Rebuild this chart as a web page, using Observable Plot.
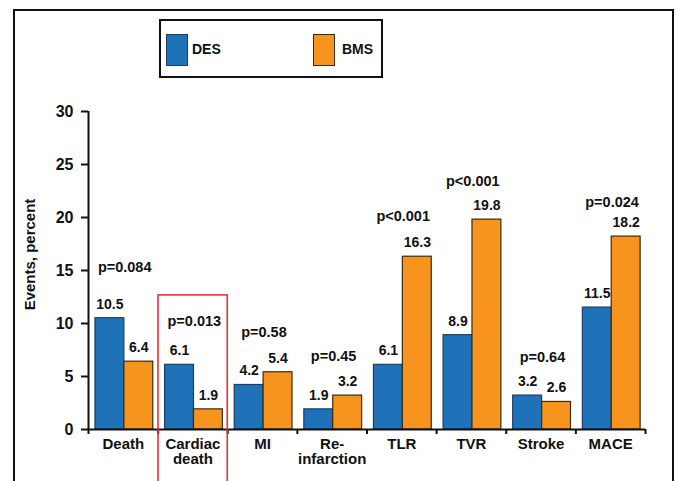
<!DOCTYPE html>
<html>
<head>
<meta charset="utf-8">
<script src="https://cdn.jsdelivr.net/npm/d3@7"></script>
<script src="https://cdn.jsdelivr.net/npm/@observablehq/plot@0.6"></script>
<style>
  html, body { margin: 0; padding: 0; background: #fff; overflow: hidden; }
  #wrap { position: relative; width: 678px; height: 481px; overflow: hidden; background: #fff;
          font-family: "Liberation Sans", Arial, sans-serif; }
  #frame { position: absolute; left: 13px; top: 9px; width: 657px; height: 520px; border: 2px solid #111; }
  #legend { position: absolute; left: 159px; top: 19px; width: 220px; height: 55px; border: 2px solid #111; background: #fff; }
  .sw { position: absolute; top: 13px; width: 22px; height: 32px; box-sizing: border-box; }
  .lt { position: absolute; top: 20px; font-weight: bold; font-size: 14px; color: #111; line-height: 16px; }
  #chart { position: absolute; left: 0; top: 0; }
</style>
</head>
<body>
<div id="wrap">
  <div id="frame"></div>
  <div id="chart"></div>
  <div id="legend"></div>
</div>
<script>
const categories = ["Death", "Cardiac\ndeath", "MI", "Re-\ninfarction", "TLR", "TVR", "Stroke", "MACE"];
const seriesNames = ["DES", "BMS"];
const desValues = [10.5, 6.1, 4.2, 1.9, 6.1, 8.9, 3.2, 11.5];
const bmsValues = [6.4, 1.9, 5.4, 3.2, 16.3, 19.8, 2.6, 18.2];
const pLabels = ["p=0.084", "p=0.013", "p=0.58", "p=0.45", "p<0.001", "p<0.001", "p=0.64", "p=0.024"];
const pLabelLevel = [15.3, 10.2, 9.2, 6.9, 20.1, 23.4, 6.8, 21.4];
const yTicks = [0, 5, 10, 15, 20, 25, 30];
const highlighted = "Cardiac\ndeath";

const colors = { DES: "#1f72b8", BMS: "#f7941e" };
const strokes = { DES: "#1d3d63", BMS: "#3a2a10" };

const rows = categories.map((c, i) => ({ i, category: c, DES: desValues[i], BMS: bmsValues[i], p: pLabels[i], pl: pLabelLevel[i] }));
const bars = rows.flatMap(r => seriesNames.map((s, k) => ({ i: r.i, series: s, k, value: r[s] })));

const font = "Liberation Sans, Arial, sans-serif";
const hi = categories.indexOf(highlighted);

const chart = Plot.plot({
  width: 678,
  height: 481,
  marginLeft: 88,
  marginRight: 33,
  marginTop: 111,
  marginBottom: 52,
  style: { fontFamily: font, background: "transparent", overflow: "visible" },
  x: { domain: [0, categories.length], axis: null },
  y: { domain: [0, 30], axis: null },
  marks: [
    Plot.rectY(bars, {
      x1: d => d.i + 0.1 + d.k * 0.415,
      x2: d => d.i + 0.515 + d.k * 0.415,
      y1: 0,
      y2: "value",
      fill: d => colors[d.series],
      stroke: d => strokes[d.series],
      strokeWidth: 1.2
    }),
    Plot.text(bars, {
      x: d => d.i + 0.3075 + d.k * 0.415,
      y: "value",
      text: d => d.value.toFixed(1),
      dy: -14,
      fontSize: 14,
      fontWeight: "bold",
      fill: "#111"
    }),
    Plot.text(rows, {
      x: d => d.i + 0.52,
      y: "pl",
      text: "p",
      fontSize: 14.5,
      fontWeight: "bold",
      fill: "#111"
    }),
    Plot.axisY({
      ticks: yTicks,
      tickSize: 7,
      tickPadding: 8,
      fontSize: 16,
      fontWeight: "bold",
      stroke: "#111",
      strokeWidth: 2,
      color: "#111",
      label: null
    }),
    Plot.axisX({
      ticks: d3.range(categories.length + 1),
      tickFormat: () => "",
      tickSize: 5,
      stroke: "#111",
      strokeWidth: 2,
      label: null
    }),
    Plot.ruleX([0], { y1: 0, y2: 30, stroke: "#111", strokeWidth: 2 }),
    Plot.ruleY([0], { x1: 0, x2: categories.length, stroke: "#111", strokeWidth: 2 }),
    Plot.text(rows, {
      x: d => d.i + 0.5,
      y: 0,
      text: "category",
      lineAnchor: "top",
      dy: 9,
      fontSize: 15,
      fontWeight: "bold",
      fill: "#111"
    }),
    Plot.text(["Events, percent"], {
      frameAnchor: "left",
      text: d => d,
      rotate: -90,
      textAnchor: "middle",
      dx: -58,
      dy: -16,
      fontSize: 15,
      fontWeight: "bold",
      fill: "#111"
    }),
    Plot.rect([hi], {
      x1: d => d + 0.005,
      x2: d => d + 1.0,
      y1: -5,
      y2: 12.65,
      fill: "none",
      stroke: "#e8313c",
      strokeWidth: 1.6
    })
  ]
});
document.getElementById("chart").append(chart);

const legend = document.getElementById("legend");
const legendLayout = [{ sw: 5, tx: 31 }, { sw: 152, tx: 181 }];
seriesNames.forEach((s, k) => {
  const sw = document.createElement("div");
  sw.className = "sw";
  sw.style.left = legendLayout[k].sw + "px";
  sw.style.background = colors[s];
  sw.style.border = "1px solid " + strokes[s];
  legend.append(sw);
  const t = document.createElement("div");
  t.className = "lt";
  t.style.left = legendLayout[k].tx + "px";
  t.textContent = s;
  legend.append(t);
});
</script>
</body>
</html>
